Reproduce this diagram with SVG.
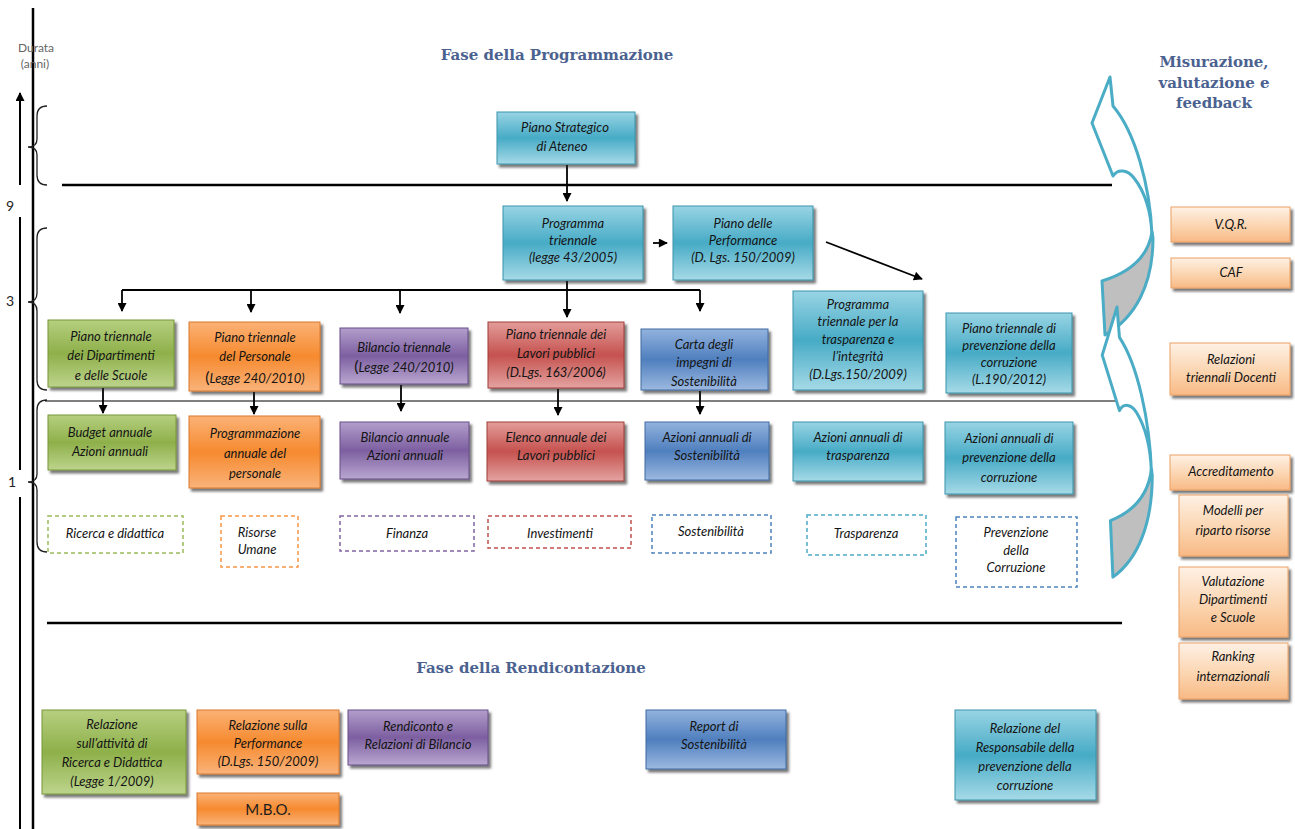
<svg xmlns="http://www.w3.org/2000/svg" width="1295" height="829" viewBox="0 0 1295 829">
<defs>
<linearGradient id="gTeal" x1="0" y1="0" x2="0" y2="1"><stop offset="0" stop-color="#98d4e4"/><stop offset="0.5" stop-color="#47abc6"/><stop offset="1" stop-color="#a6dae7"/></linearGradient>
<linearGradient id="gGreen" x1="0" y1="0" x2="0" y2="1"><stop offset="0" stop-color="#b6cf80"/><stop offset="0.5" stop-color="#8eb04a"/><stop offset="1" stop-color="#bdd48c"/></linearGradient>
<linearGradient id="gOrange" x1="0" y1="0" x2="0" y2="1"><stop offset="0" stop-color="#fbb276"/><stop offset="0.5" stop-color="#f68a2f"/><stop offset="1" stop-color="#f9b37a"/></linearGradient>
<linearGradient id="gPurple" x1="0" y1="0" x2="0" y2="1"><stop offset="0" stop-color="#b29ecb"/><stop offset="0.5" stop-color="#7d5fa1"/><stop offset="1" stop-color="#b9a7d0"/></linearGradient>
<linearGradient id="gRed" x1="0" y1="0" x2="0" y2="1"><stop offset="0" stop-color="#e39d9a"/><stop offset="0.5" stop-color="#c5524f"/><stop offset="1" stop-color="#e4a3a1"/></linearGradient>
<linearGradient id="gBlue" x1="0" y1="0" x2="0" y2="1"><stop offset="0" stop-color="#93b3de"/><stop offset="0.5" stop-color="#4f7fbe"/><stop offset="1" stop-color="#9cb9e0"/></linearGradient>
<linearGradient id="gLight" x1="0" y1="0" x2="0" y2="1"><stop offset="0" stop-color="#fef1e5"/><stop offset="0.6" stop-color="#fbd2ab"/><stop offset="1" stop-color="#f8b985"/></linearGradient>
<filter id="sh" x="-5%" y="-5%" width="115%" height="130%"><feDropShadow dx="2.5" dy="3" stdDeviation="0.8" flood-color="#1a1a1a" flood-opacity="0.6"/></filter>
<marker id="ah" viewBox="0 0 10 10" refX="9" refY="5" markerWidth="10" markerHeight="9" markerUnits="userSpaceOnUse" orient="auto"><path d="M0,0 L10,5 L0,10 z" fill="#000"/></marker>
</defs>
<style>
.box rect{stroke-width:1;filter:url(#sh)}
.teal rect{fill:url(#gTeal);stroke:#3a93ab}
.green rect{fill:url(#gGreen);stroke:#76963a}
.orange rect{fill:url(#gOrange);stroke:#d9782f}
.purple rect{fill:url(#gPurple);stroke:#664d87}
.red rect{fill:url(#gRed);stroke:#9e3c3a}
.blue rect{fill:url(#gBlue);stroke:#3e6aa0}
.light rect{fill:url(#gLight);stroke:#eaa064}
.dash rect{fill:none;stroke-width:1.5;stroke-dasharray:4 3}
text{font-family:Lato,"Open Sans","Liberation Sans",sans-serif}
.t{font-style:italic;font-size:13px;fill:#141414;text-anchor:middle}
.title{font-family:"DejaVu Serif","Liberation Serif",serif;font-weight:bold;font-size:15px;fill:#4b6290;text-anchor:middle}
.conn line,.conn path{stroke:#000;stroke-width:1.8;fill:none}
.axis{stroke:#000;fill:none}
.brace{stroke:#222;stroke-width:1.3;fill:none}
.big{fill:#fff;stroke:#4bacc6;stroke-width:3;stroke-linejoin:round}
.bigg{fill:#bfbfbf;stroke:#4bacc6;stroke-width:3;stroke-linejoin:round}
.num{font-size:14px;fill:#222}
</style>
<rect x="0" y="0" width="1295" height="829" fill="#fff"/>

<!-- axis and separators -->
<g id="axis">
<line class="axis" x1="33" y1="8" x2="33" y2="829" stroke-width="2.5"/>
<line class="axis" x1="20" y1="185" x2="20" y2="93" stroke-width="2" marker-end="url(#ah)"/>
<line class="axis" x1="20" y1="217" x2="20" y2="470" stroke-width="2"/>
<line class="axis" x1="20" y1="497" x2="20" y2="829" stroke-width="2"/>
<text x="36" y="52" font-size="12" fill="#666" text-anchor="middle">Durata</text>
<text x="35" y="68" font-size="12" fill="#666" text-anchor="middle">(anni)</text>
<text class="num" x="6" y="211">9</text>
<text class="num" x="6" y="306">3</text>
<text class="num" x="8" y="487">1</text>
<path class="brace" d="M47,106 Q37,106 37,116 L37,139 Q37,147 28,147 Q37,147 37,155 L37,175 Q37,185 47,185"/>
<path class="brace" d="M47,228 Q37,228 37,238 L37,293 Q37,302 28,302 Q37,302 37,311 L37,380 Q37,390 47,390"/>
<path class="brace" d="M47,400 Q37,400 37,410 L37,474 Q37,482 28,482 Q37,482 37,490 L37,542 Q37,552 47,552"/>
<line class="axis" x1="62" y1="185" x2="1112" y2="185" stroke-width="2.5"/>
<line class="axis" x1="45" y1="401" x2="1120" y2="401" stroke-width="1.2"/>
<line class="axis" x1="47" y1="623" x2="1122" y2="623" stroke-width="2.5"/>
</g>

<!-- titles -->
<text class="title" x="557" y="60">Fase della Programmazione</text>
<text class="title" x="531" y="673">Fase della Rendicontazione</text>
<text class="title" x="1214" y="67" font-size="15.5">Misurazione,</text>
<text class="title" x="1214" y="88" font-size="15.5">valutazione e</text>
<text class="title" x="1214" y="108" font-size="15.5">feedback</text>

<!-- feedback arrows -->
<g id="feedback-arrows">
<g id="arrow-upper">
<path class="bigg" d="M1152,232 C1148,258 1128,273 1102,281 L1105,335 C1135,318 1153,285 1153,238 Z"/>
<path class="big" d="M1110,77 L1092,123 L1113,176 C1118,168 1128,170 1134,178 C1145,192 1151,212 1152,235 C1150,185 1135,132 1113,106 Z"/>
</g>
<g id="arrow-lower" transform="translate(1117,307) scale(0.82,1.047) translate(-1110,-77)">
<path class="bigg" vector-effect="non-scaling-stroke" d="M1152,232 C1148,258 1128,273 1102,281 L1105,335 C1135,318 1153,285 1153,238 Z"/>
<path class="big" vector-effect="non-scaling-stroke" d="M1110,77 L1092,123 L1113,176 C1118,168 1128,170 1134,178 C1145,192 1151,212 1152,235 C1150,185 1135,132 1113,106 Z"/>
</g>
</g>

<!-- connectors -->
<g id="connectors" class="conn">
<line x1="567" y1="165" x2="567" y2="201" marker-end="url(#ah)"/>
<line x1="653" y1="243" x2="667" y2="243" marker-end="url(#ah)"/>
<line x1="826" y1="242" x2="922" y2="279" marker-end="url(#ah)"/>
<path d="M122,290 L700,290"/>
<line x1="567" y1="281" x2="567" y2="317" marker-end="url(#ah)"/>
<line x1="122" y1="290" x2="122" y2="311" marker-end="url(#ah)"/>
<line x1="251" y1="290" x2="251" y2="312" marker-end="url(#ah)"/>
<line x1="400" y1="290" x2="400" y2="313" marker-end="url(#ah)"/>
<line x1="700" y1="290" x2="700" y2="311" marker-end="url(#ah)"/>
<line x1="103" y1="388" x2="103" y2="413" marker-end="url(#ah)"/>
<line x1="254" y1="392" x2="254" y2="414" marker-end="url(#ah)"/>
<line x1="401" y1="385" x2="401" y2="411" marker-end="url(#ah)"/>
<line x1="558" y1="389" x2="558" y2="415" marker-end="url(#ah)"/>
<line x1="700" y1="391" x2="700" y2="414" marker-end="url(#ah)"/>
</g>

<!-- programmazione nodes -->
<g id="n-strategico" class="box teal"><rect x="497" y="112" width="138" height="52"/><text class="t"><tspan x="565" y="132">Piano Strategico</tspan><tspan x="562" y="151">di Ateneo</tspan></text></g>
<g id="n-progtri" class="box teal"><rect x="503" y="206" width="140" height="74"/><text class="t"><tspan x="573" y="228">Programma</tspan><tspan x="573" y="245">triennale</tspan><tspan x="573" y="262">(legge 43/2005)</tspan></text></g>
<g id="n-perf" class="box teal"><rect x="673" y="206" width="140" height="74"/><text class="t"><tspan x="743" y="228">Piano delle</tspan><tspan x="743" y="245">Performance</tspan><tspan x="743" y="262">(D. Lgs. 150/2009)</tspan></text></g>
<g id="n-trasp" class="box teal"><rect x="793" y="291" width="130" height="99"/><text class="t"><tspan x="858" y="309">Programma</tspan><tspan x="858" y="326">triennale per la</tspan><tspan x="858" y="344">trasparenza e</tspan><tspan x="858" y="361">l’integrità</tspan><tspan x="858" y="379">(D.Lgs.150/2009)</tspan></text></g>
<g id="n-prevtri" class="box teal"><rect x="946" y="313" width="126" height="80"/><text class="t"><tspan x="1009" y="333">Piano triennale di</tspan><tspan x="1009" y="350">prevenzione della</tspan><tspan x="1009" y="367">corruzione</tspan><tspan x="1009" y="384">(L.190/2012)</tspan></text></g>

<g id="n-dip" class="box green"><rect x="48" y="320" width="126" height="67"/><text class="t"><tspan x="111" y="341">Piano triennale</tspan><tspan x="111" y="360">dei Dipartimenti</tspan><tspan x="111" y="380">e delle Scuole</tspan></text></g>
<g id="n-pers" class="box orange"><rect x="189" y="322" width="131" height="69"/><text class="t"><tspan x="255" y="342">Piano triennale</tspan><tspan x="255" y="361">del Personale</tspan><tspan x="255" y="383"><tspan font-style="normal" font-size="16">(</tspan>Legge 240/2010)</tspan></text></g>
<g id="n-biltri" class="box purple"><rect x="340" y="328" width="128" height="56"/><text class="t"><tspan x="404" y="352">Bilancio triennale</tspan><tspan x="404" y="372"><tspan font-style="normal" font-size="16">(</tspan>Legge 240/2010)</tspan></text></g>
<g id="n-lavtri" class="box red"><rect x="488" y="322" width="136" height="66"/><text class="t"><tspan x="556" y="339">Piano triennale dei</tspan><tspan x="556" y="358">Lavori pubblici</tspan><tspan x="556" y="377">(D.Lgs. 163/2006)</tspan></text></g>
<g id="n-carta" class="box blue"><rect x="641" y="329" width="127" height="61"/><text class="t"><tspan x="704" y="349">Carta degli</tspan><tspan x="704" y="367">impegni di</tspan><tspan x="704" y="386">Sostenibilità</tspan></text></g>

<g id="n-budget" class="box green"><rect x="48" y="415" width="128" height="55"/><text class="t"><tspan x="110" y="437">Budget annuale</tspan><tspan x="110" y="456">Azioni annuali</tspan></text></g>
<g id="n-progpers" class="box orange"><rect x="189" y="416" width="131" height="72"/><text class="t"><tspan x="255" y="438">Programmazione</tspan><tspan x="255" y="458">annuale del</tspan><tspan x="255" y="478">personale</tspan></text></g>
<g id="n-bilann" class="box purple"><rect x="340" y="422" width="129" height="57"/><text class="t"><tspan x="405" y="442">Bilancio annuale</tspan><tspan x="405" y="460">Azioni annuali</tspan></text></g>
<g id="n-elenco" class="box red"><rect x="487" y="422" width="137" height="59"/><text class="t"><tspan x="556" y="442">Elenco annuale dei</tspan><tspan x="556" y="460">Lavori pubblici</tspan></text></g>
<g id="n-azsost" class="box blue"><rect x="645" y="422" width="124" height="58"/><text class="t"><tspan x="707" y="442">Azioni annuali di</tspan><tspan x="707" y="460">Sostenibilità</tspan></text></g>
<g id="n-aztrasp" class="box teal"><rect x="793" y="422" width="130" height="59"/><text class="t"><tspan x="858" y="442">Azioni annuali di</tspan><tspan x="858" y="460">trasparenza</tspan></text></g>
<g id="n-azprev" class="box teal"><rect x="945" y="422" width="128" height="72"/><text class="t"><tspan x="1009" y="443">Azioni annuali di</tspan><tspan x="1009" y="462">prevenzione della</tspan><tspan x="1009" y="482">corruzione</tspan></text></g>

<!-- dashed area labels -->
<g id="n-ricerca" class="dash"><rect x="48" y="516" width="135" height="37" stroke="#9bbb59"/><text class="t" x="115" y="538">Ricerca e didattica</text></g>
<g id="n-risorse" class="dash"><rect x="221" y="516" width="77" height="51" stroke="#f79646"/><text class="t"><tspan x="257" y="537">Risorse</tspan><tspan x="257" y="554">Umane</tspan></text></g>
<g id="n-finanza" class="dash"><rect x="340" y="516" width="134" height="35" stroke="#8064a2"/><text class="t" x="407" y="538">Finanza</text></g>
<g id="n-invest" class="dash"><rect x="488" y="516" width="143" height="32" stroke="#c0504d"/><text class="t" x="560" y="538">Investimenti</text></g>
<g id="n-sost" class="dash"><rect x="652" y="515" width="119" height="38" stroke="#4f81bd"/><text class="t" x="711" y="536">Sostenibilità</text></g>
<g id="n-traspa" class="dash"><rect x="807" y="515" width="119" height="40" stroke="#4bacc6"/><text class="t" x="866" y="538">Trasparenza</text></g>
<g id="n-prevcorr" class="dash"><rect x="956" y="517" width="121" height="70" stroke="#4f81bd"/><text class="t"><tspan x="1016" y="537">Prevenzione</tspan><tspan x="1016" y="555">della</tspan><tspan x="1016" y="572">Corruzione</tspan></text></g>

<!-- right column -->
<g id="n-vqr" class="box light"><rect x="1171" y="207" width="119" height="35"/><text class="t" x="1231" y="229">V.Q.R.</text></g>
<g id="n-caf" class="box light"><rect x="1171" y="258" width="119" height="30"/><text class="t" x="1231" y="277">CAF</text></g>
<g id="n-reltri" class="box light"><rect x="1170" y="343" width="120" height="52"/><text class="t"><tspan x="1231" y="364">Relazioni</tspan><tspan x="1231" y="382">triennali Docenti</tspan></text></g>
<g id="n-accr" class="box light"><rect x="1170" y="455" width="120" height="35"/><text class="t" x="1231" y="476">Accreditamento</text></g>
<g id="n-modelli" class="box light"><rect x="1179" y="495" width="109" height="61"/><text class="t"><tspan x="1233" y="515">Modelli per</tspan><tspan x="1233" y="535">riparto risorse</tspan></text></g>
<g id="n-valut" class="box light"><rect x="1179" y="567" width="109" height="70"/><text class="t"><tspan x="1233" y="586">Valutazione</tspan><tspan x="1233" y="604">Dipartimenti</tspan><tspan x="1233" y="622">e Scuole</tspan></text></g>
<g id="n-ranking" class="box light"><rect x="1179" y="643" width="109" height="56"/><text class="t"><tspan x="1233" y="661">Ranking</tspan><tspan x="1233" y="681">internazionali</tspan></text></g>

<!-- rendicontazione -->
<g id="n-relric" class="box green"><rect x="42" y="710" width="144" height="84"/><text class="t"><tspan x="112" y="729">Relazione</tspan><tspan x="112" y="748">sull’attività di</tspan><tspan x="112" y="767">Ricerca e Didattica</tspan><tspan x="112" y="786">(Legge 1/2009)</tspan></text></g>
<g id="n-relperf" class="box orange"><rect x="197" y="710" width="142" height="64"/><text class="t"><tspan x="268" y="730">Relazione sulla</tspan><tspan x="268" y="748">Performance</tspan><tspan x="268" y="766">(D.Lgs. 150/2009)</tspan></text></g>
<g id="n-mbo" class="box orange"><rect x="197" y="793" width="142" height="32"/><text x="268" y="815" font-size="15" fill="#1e1e1e" text-anchor="middle">M.B.O.</text></g>
<g id="n-rend" class="box purple"><rect x="348" y="710" width="140" height="55"/><text class="t"><tspan x="418" y="731">Rendiconto e</tspan><tspan x="418" y="749">Relazioni di Bilancio</tspan></text></g>
<g id="n-report" class="box blue"><rect x="646" y="710" width="140" height="59"/><text class="t"><tspan x="714" y="731">Report di</tspan><tspan x="714" y="749">Sostenibilità</tspan></text></g>
<g id="n-relresp" class="box teal"><rect x="955" y="710" width="141" height="90"/><text class="t"><tspan x="1025" y="733">Relazione del</tspan><tspan x="1025" y="752">Responsabile della</tspan><tspan x="1025" y="771">prevenzione della</tspan><tspan x="1025" y="790">corruzione</tspan></text></g>
</svg>
